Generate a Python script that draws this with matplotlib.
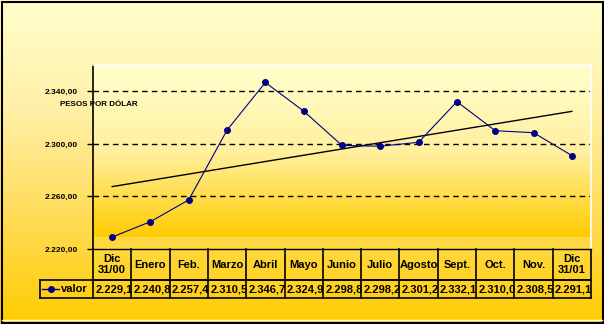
import numpy as np
import matplotlib
matplotlib.use("Agg")
import matplotlib.pyplot as plt
import matplotlib.transforms as mtransforms
from matplotlib.colors import LinearSegmentedColormap
from matplotlib.lines import Line2D
from matplotlib.patches import Rectangle

plt.rcParams['font.family'] = ['Liberation Sans', 'DejaVu Sans']

# datos
meses = ["Dic\n31/00", "Enero", "Feb.", "Marzo", "Abril", "Mayo", "Junio",
         "Julio", "Agosto", "Sept.", "Oct.", "Nov.", "Dic\n31/01"]
valor = [2229.1, 2240.8, 2257.4, 2310.5, 2346.7, 2324.9, 2298.8,
         2298.2, 2301.2, 2332.1, 2310.0, 2308.5, 2291.1]
etiquetas = ["2.229,1", "2.240,8", "2.257,4", "2.310,5", "2.346,7", "2.324,9", "2.298,8",
             "2.298,2", "2.301,2", "2.332,1", "2.310,0", "2.308,5", "2.291,1"]
yticks = [2220, 2260, 2300, 2340]
ytick_labels = ["2.220,00", "2.260,00", "2.300,00", "2.340,00"]

W, H = 604, 324
fig = plt.figure(figsize=(W / 100, H / 100), dpi=100)

# fondo degradado de la figura
cmap = LinearSegmentedColormap.from_list("oro", ["#FFFFCC", "#FFF0A8", "#FFDC5A", "#FFCC00"])
bg = fig.add_axes([0, 0, 1, 1], zorder=-2)
bg.imshow(np.linspace(0, 1, 256).reshape(-1, 1), aspect="auto", cmap=cmap,
          extent=[0, 1, 0, 1], origin="upper")
bg.set_xlim(0, 1)
bg.set_ylim(0, 1)
bg.axis("off")
bg.add_patch(Rectangle((1.5 / W, 1.5 / H), (W - 3) / W, (H - 3) / H, fill=False,
                       edgecolor="black", linewidth=1.5))
bg.plot([2 / W, (W - 2) / W], [4 / H, 4 / H], color="white", linewidth=1)

# area del grafico
left, right, top, bottom = 93, 591, 65, 249
ax = fig.add_axes([left / W, 1 - bottom / H, (right - left) / W, (bottom - top) / H])
ax.set_facecolor("none")
ax.set_xlim(-0.5, 12.5)
ax.set_ylim(2220, 2360)

cmap2 = LinearSegmentedColormap.from_list("oro2", ["#FFFFCC", "#FFF0A0", "#FFCC00"])
ax.imshow(np.linspace(0, 1, 256).reshape(-1, 1), aspect="auto", cmap=cmap2,
          extent=[0, 1, 12 / 184, 1], origin="upper", transform=ax.transAxes, zorder=0)

for yv in yticks[1:]:
    ax.axhline(yv, color="black", linestyle=(0, (4, 3)), linewidth=1, zorder=1)

x = np.arange(len(valor))
ax.plot(x, valor, color="#000080", linewidth=0.8, marker="o", markersize=4, zorder=3)

# linea de tendencia
m, b = np.polyfit(x, valor, 1)
ax.plot([x[0], x[-1]], [m * x[0] + b, m * x[-1] + b], color="black", linewidth=1, zorder=2)

for s in ["top", "right"]:
    ax.spines[s].set_color("white")
    ax.spines[s].set_linewidth(1.2)
ax.spines["bottom"].set_linewidth(1)
ax.spines["left"].set_linewidth(1.2)
ax.set_xticks([])
ax.set_yticks(yticks)
ax.set_yticklabels(ytick_labels, fontsize=6, fontweight="bold")
ax.tick_params(axis="y", length=4, width=1, pad=7)

ax.text(-0.066, 0.788, "PESOS POR DÓLAR", transform=ax.transAxes, fontsize=5.8,
        fontweight="bold", ha="left", va="center")

# tabla de datos
tr = mtransforms.blended_transform_factory(ax.transData, ax.transAxes)
y0, y1, y2 = 0, -31 / 184, -49 / 184
xl = -0.5 - 53 / (498 / 13)
lk = dict(color="black", linewidth=1.2, transform=tr, clip_on=False)
ax.add_line(Line2D([-0.5, 12.5], [y1, y1], **lk))
ax.add_line(Line2D([xl, 12.5], [y1, y1], **lk))
ax.add_line(Line2D([xl, 12.5], [y2, y2], **lk))
ax.add_line(Line2D([xl, xl], [y1, y2], **lk))
for i in range(len(meses) + 1):
    ax.add_line(Line2D([i - 0.5, i - 0.5], [y0, y2], **lk))

for i, (mes, et) in enumerate(zip(meses, etiquetas)):
    ax.text(i, (y0 + y1) / 2, mes, transform=tr, ha="center", va="center",
            fontsize=8, fontweight="bold", linespacing=1.1)
    t = ax.text(i - 0.44, (y1 + y2) / 2, et, transform=tr, ha="left", va="center",
                fontsize=8, fontweight="bold")
    celda = Rectangle((i - 0.5, y2), 0.97, y1 - y2, transform=tr)
    t.set_clip_path(celda)

ym = (y1 + y2) / 2
ax.add_line(Line2D([xl + 0.06, xl + 0.5], [ym, ym], color="#000080", linewidth=1,
                   transform=tr, clip_on=False))
ax.add_line(Line2D([xl + 0.28], [ym], color="#000080", marker="o", markersize=4,
                   transform=tr, clip_on=False))
ax.text(xl + 0.56, ym, "valor", transform=tr, ha="left", va="center",
        fontsize=8, fontweight="bold")

fig.savefig("out.png", dpi=100)
